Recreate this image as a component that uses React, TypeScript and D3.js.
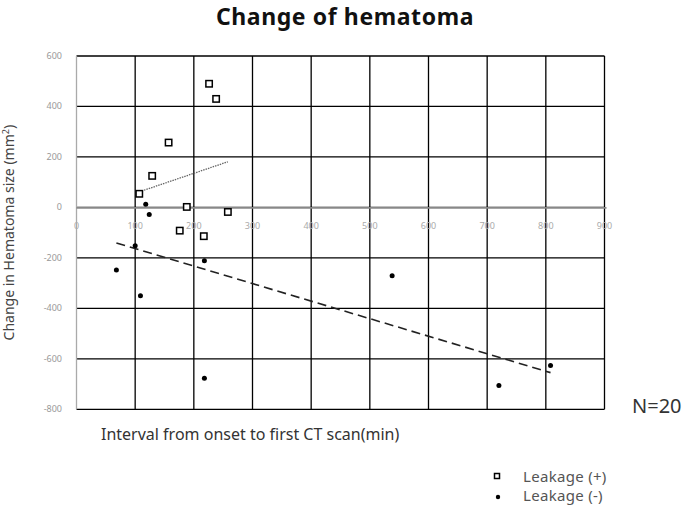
import React from "react";
import * as d3 from "d3";

const W = 685, H = 507;
const xTicks = [0, 100, 200, 300, 400, 500, 600, 700, 800, 900];
const yTicks = [600, 400, 200, 0, -200, -400, -600, -800];

const leakPosX = [226, 238, 157, 129, 107, 188, 258, 176, 217];
const leakPosY = [490, 430, 257, 125, 54, 2, -18, -92, -114];
const leakNegX = [118, 124, 100, 68, 109, 218, 218, 538, 720, 808, 107];
const leakNegY = [13, -28, -152, -248, -350, -211, -677, -271, -706, -626, 54];

const seriesLabels = ["Leakage (+)", "Leakage (-)"];

function regression(xs: number[], ys: number[]) {
  const mx = d3.mean(xs) as number, my = d3.mean(ys) as number;
  let sxy = 0, sxx = 0;
  xs.forEach((x, i) => { sxy += (x - mx) * (ys[i] - my); sxx += (x - mx) ** 2; });
  const b = sxy / sxx;
  const a = my - b * mx;
  const x0 = d3.min(xs) as number, x1 = d3.max(xs) as number;
  return [[x0, a + b * x0], [x1, a + b * x1]];
}

export default function App() {
  const x = d3.scaleLinear().domain([0, 900]).range([76.5, 604.5]);
  const y = d3.scaleLinear().domain([-800, 600]).range([409.3, 56]);
  const line = d3.line<number[]>().x(d => x(d[0])).y(d => y(d[1]));
  const regPos = regression(leakPosX, leakPosY);
  const regNeg = regression(leakNegX, leakNegY);
  const font = "'Noto Sans', 'DejaVu Sans', sans-serif";
  return (
    <svg width={W} height={H} style={{ position: "absolute", left: 0, top: 0, background: "#fff" }} fontFamily={font}>
      <text x={345} y={25} textAnchor="middle" fontSize={23} fontWeight="bold" fill="#111" letterSpacing={0.6}>Change of hematoma</text>
      {/* grid */}
      {xTicks.filter(t => t > 0).map(t => (
        <line key={"gx" + t} x1={x(t)} x2={x(t)} y1={y(600)} y2={y(-800)} stroke="#000" strokeWidth={1.3} />
      ))}
      {yTicks.map(t => (
        <line key={"gy" + t} x1={x(0)} x2={x(900)} y1={y(t)} y2={y(t)} stroke="#000" strokeWidth={1.3} />
      ))}
      {/* axes */}
      <line x1={x(0)} x2={x(0)} y1={y(600)} y2={y(-800)} stroke="#aaa" strokeWidth={1.3} />
      <line x1={x(0)} x2={x(900) + 2} y1={y(0) + 0.5} y2={y(0) + 0.5} stroke="#888" strokeWidth={1.8} />
      {yTicks.map(t => (
        <text key={"yt" + t} x={62} y={y(t) + 3} textAnchor="end" fontSize={9} fill="#999">{t}</text>
      ))}
      {xTicks.map(t => (
        <text key={"xt" + t} x={x(t)} y={y(0) + 22} textAnchor="middle" fontSize={9} fill="#aaa">{t}</text>
      ))}
      {/* trend lines */}
      <path d={line(regPos) || ""} fill="none" stroke="#666" strokeWidth={1.3} strokeDasharray="1.5,1" />
      <path d={line(regNeg) || ""} fill="none" stroke="#222" strokeWidth={1.6} strokeDasharray="9,5" />
      {/* points */}
      {leakNegX.map((v, i) => (
        <circle key={"n" + i} cx={x(v)} cy={y(leakNegY[i])} r={2.5} fill="#000" />
      ))}
      {leakPosX.map((v, i) => (
        <rect key={"p" + i} x={x(v) - 3.2} y={y(leakPosY[i]) - 3.2} width={6.4} height={6.4} fill="#fff" stroke="#000" strokeWidth={1.5} />
      ))}
      {/* titles */}
      <text transform={`translate(14,${(y(600) + y(-800)) / 2}) rotate(-90)`} textAnchor="middle" fontSize={14} fill="#444">
        Change in Hematoma size (mm<tspan dy={-5} fontSize={9}>2</tspan><tspan dy={5}>)</tspan>
      </text>
      <text x={101} y={440} fontSize={16} fill="#333">Interval from onset to first CT scan(min)</text>
      <text x={632} y={413} fontSize={20} fill="#333">N=20</text>
      {/* legend */}
      <rect x={494.5} y={473.5} width={5} height={5} fill="#fff" stroke="#000" strokeWidth={1.5} />
      <text x={523} y={482} fontSize={15} fill="#555" letterSpacing={0.3}>{seriesLabels[0]}</text>
      <circle cx={498} cy={497} r={2.2} fill="#000" />
      <text x={523} y={501} fontSize={15} fill="#555" letterSpacing={0.3}>{seriesLabels[1]}</text>
    </svg>
  );
}
